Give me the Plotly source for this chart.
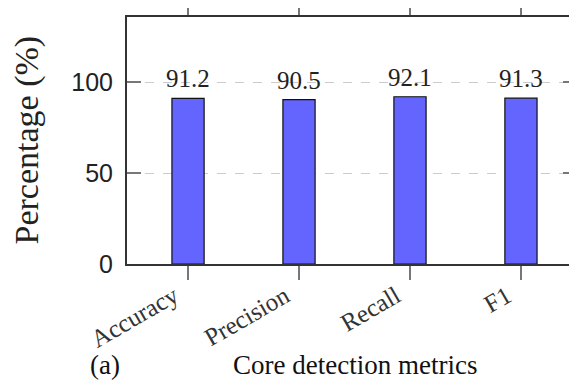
import plotly.graph_objects as go

categories = ["Accuracy", "Precision", "Recall", "F1"]
values = [91.2, 90.5, 92.1, 91.3]
y_ticks = [0, 50, 100]

serif = "Liberation Serif, Times New Roman, serif"
sans = "Liberation Sans, Arial, sans-serif"

fig = go.Figure()
fig.add_trace(go.Bar(
    x=categories, y=values, width=0.29,
    marker=dict(color="#6464ff", line=dict(color="#111111", width=1.2)),
    showlegend=False, hoverinfo="skip",
))

for c, v in zip(categories, values):
    fig.add_annotation(x=c, y=v, text=f"{v:.1f}", showarrow=False,
                       yanchor="bottom", yshift=4,
                       font=dict(family=serif, size=25, color="#222222"))

fig.add_annotation(xref="paper", yref="paper", x=0, y=0.5, xshift=-101,
                   text="Percentage (%)", textangle=-90, showarrow=False,
                   xanchor="center", yanchor="middle",
                   font=dict(family=serif, size=34, color="#222222"))
fig.add_annotation(xref="paper", yref="paper", x=0, y=0, xshift=-22, yshift=-101,
                   text="(a)", showarrow=False, xanchor="center", yanchor="middle",
                   font=dict(family=serif, size=27, color="#111111"))
fig.add_annotation(xref="paper", yref="paper", x=0, y=0, xshift=228, yshift=-101,
                   text="Core detection metrics", showarrow=False,
                   xanchor="center", yanchor="middle",
                   font=dict(family=serif, size=27, color="#111111"))

# page body adds an 8px offset, so the figure is sized to fill the rest
fig.update_layout(
    width=569, height=377,
    margin=dict(l=119, r=0, t=9, b=121, autoexpand=False),
    plot_bgcolor="white", paper_bgcolor="white",
)
fig.update_xaxes(
    range=[-0.55, 3.505], showline=True, linecolor="#333333", linewidth=2,
    mirror="ticks", ticks="outside", ticklen=14, tickcolor="#777777", tickwidth=1.5,
    tickangle=-30, tickfont=dict(family=serif, size=25, color="#333333"),
    ticklabelshift=-14, ticklabelstandoff=-8,
    showgrid=False, automargin=False,
)
fig.update_yaxes(
    range=[0, 136], tickvals=y_ticks, showline=True, linecolor="#333333", linewidth=2,
    mirror="ticks", ticks="inside", ticklen=14, tickcolor="#777777", tickwidth=1.5,
    tickfont=dict(family=sans, size=25, color="#222222"),
    ticklabelstandoff=7,
    showgrid=True, gridcolor="#cccccc", griddash="dash", gridwidth=1,
    zeroline=False, automargin=False,
)

fig.write_html("out.html")
